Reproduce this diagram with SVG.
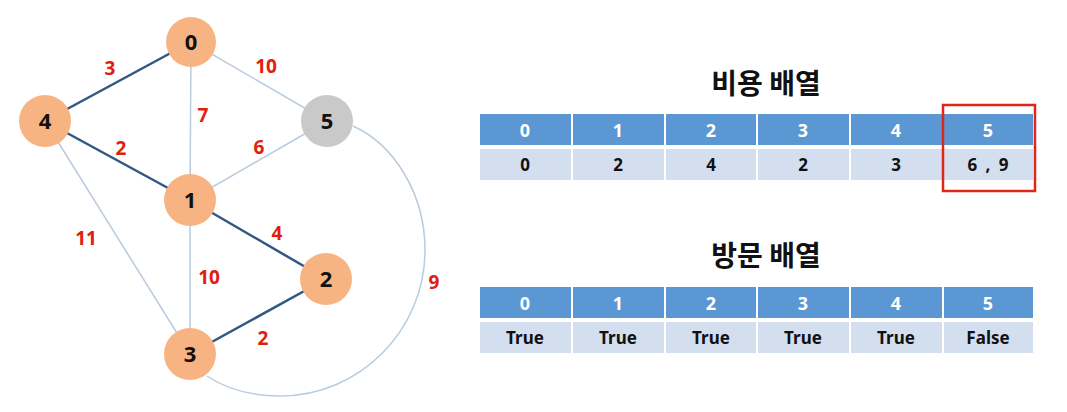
<svg xmlns="http://www.w3.org/2000/svg" width="1067" height="412" viewBox="0 0 1067 412">
<style>
.light{stroke:#B9CBDD;stroke-width:1.5;fill:none}
.dark{stroke:#2F5883;stroke-width:2.5;fill:none}
.w{font-family:"Noto Sans","Liberation Sans",sans-serif;font-weight:bold;font-size:19px;fill:#E0200F;text-anchor:middle}
.node circle{fill:#F7B482}
.node text{font-family:"Noto Sans","Liberation Sans",sans-serif;font-weight:bold;font-size:22px;fill:#111;text-anchor:middle}
.hd{fill:#5B97D3}
.rw{fill:#D3DFEF}
.ht{font-family:"Noto Sans","Liberation Sans",sans-serif;font-weight:bold;font-size:18px;fill:#fff;text-anchor:middle}
.rt{font-family:"Noto Sans","Liberation Sans",sans-serif;font-weight:bold;font-size:17px;fill:#111;text-anchor:middle}
.title{font-family:"Noto Sans CJK KR",sans-serif;font-weight:bold;font-size:28px;fill:#111;text-anchor:middle}
</style>
<rect width="1067" height="412" fill="#fff"/>
<g id="connectors">
<line class="light" x1="191" y1="42" x2="327" y2="121"/>
<line class="light" x1="191" y1="42" x2="190" y2="200"/>
<line class="light" x1="327" y1="121" x2="190" y2="200"/>
<line class="light" x1="45" y1="121" x2="190" y2="354"/>
<line class="light" x1="190" y1="200" x2="190" y2="354"/>
<path class="light" d="M353,126 C395,145 425,195 425,250 C425,330 360,396 280,396 C250,396 225,388 207,376"/>
<line class="dark" x1="191" y1="42" x2="45" y2="121"/>
<line class="dark" x1="45" y1="121" x2="190" y2="200"/>
<line class="dark" x1="190" y1="200" x2="326" y2="279"/>
<line class="dark" x1="190" y1="354" x2="326" y2="279"/>
<text class="w" x="110" y="75">3</text>
<text class="w" x="266" y="73">10</text>
<text class="w" x="203" y="122">7</text>
<text class="w" x="121" y="155">2</text>
<text class="w" x="259" y="154">6</text>
<text class="w" x="86" y="245">11</text>
<text class="w" x="209" y="284">10</text>
<text class="w" x="277" y="240">4</text>
<text class="w" x="263" y="345">2</text>
<text class="w" x="434" y="289">9</text>
</g>
<g id="n0" class="node"><circle cx="191" cy="42" r="25"/><text x="191" y="50">0</text></g>
<g id="n4" class="node"><circle cx="45" cy="121" r="26"/><text x="45" y="129">4</text></g>
<g id="n5" class="node"><circle cx="327" cy="121" r="26" style="fill:#C9C9C9"/><text x="327" y="129">5</text></g>
<g id="n1" class="node"><circle cx="190" cy="200" r="26"/><text x="190" y="208">1</text></g>
<g id="n2" class="node"><circle cx="326" cy="279" r="26"/><text x="326" y="287">2</text></g>
<g id="n3" class="node"><circle cx="190" cy="354" r="26"/><text x="190" y="362">3</text></g>
<g id="cost-table">
<text class="title" x="766" y="94">비용 배열</text>
<rect class="hd" x="480" y="114" width="91" height="31"/>
<rect class="hd" x="573" y="114" width="91" height="31"/>
<rect class="hd" x="666" y="114" width="90" height="31"/>
<rect class="hd" x="758" y="114" width="91" height="31"/>
<rect class="hd" x="851" y="114" width="91" height="31"/>
<rect class="hd" x="944" y="114" width="89" height="31"/>
<rect class="rw" x="480" y="149" width="91" height="31"/>
<rect class="rw" x="573" y="149" width="91" height="31"/>
<rect class="rw" x="666" y="149" width="90" height="31"/>
<rect class="rw" x="758" y="149" width="91" height="31"/>
<rect class="rw" x="851" y="149" width="91" height="31"/>
<rect class="rw" x="944" y="149" width="89" height="31"/>
<text class="ht" x="525" y="137">0</text>
<text class="ht" x="618" y="137">1</text>
<text class="ht" x="711" y="137">2</text>
<text class="ht" x="803" y="137">3</text>
<text class="ht" x="896" y="137">4</text>
<text class="ht" x="988" y="137">5</text>
<text class="rt" x="525" y="171">0</text>
<text class="rt" x="618" y="171">2</text>
<text class="rt" x="711" y="171">4</text>
<text class="rt" x="803" y="171">2</text>
<text class="rt" x="896" y="171">3</text>
<text class="rt" x="989" y="171" xml:space="preserve" letter-spacing="2">6 , 9</text>
<rect x="943" y="105" width="92" height="86" fill="none" stroke="#E0251B" stroke-width="2.5"/>
</g>
<g id="visit-table">
<text class="title" x="766" y="266">방문 배열</text>
<rect class="hd" x="480" y="287" width="91" height="31"/>
<rect class="hd" x="573" y="287" width="91" height="31"/>
<rect class="hd" x="666" y="287" width="90" height="31"/>
<rect class="hd" x="758" y="287" width="91" height="31"/>
<rect class="hd" x="851" y="287" width="91" height="31"/>
<rect class="hd" x="944" y="287" width="89" height="31"/>
<rect class="rw" x="480" y="322" width="91" height="31"/>
<rect class="rw" x="573" y="322" width="91" height="31"/>
<rect class="rw" x="666" y="322" width="90" height="31"/>
<rect class="rw" x="758" y="322" width="91" height="31"/>
<rect class="rw" x="851" y="322" width="91" height="31"/>
<rect class="rw" x="944" y="322" width="89" height="31"/>
<text class="ht" x="525" y="310">0</text>
<text class="ht" x="618" y="310">1</text>
<text class="ht" x="711" y="310">2</text>
<text class="ht" x="803" y="310">3</text>
<text class="ht" x="896" y="310">4</text>
<text class="ht" x="988" y="310">5</text>
<text class="rt" x="525" y="344">True</text>
<text class="rt" x="618" y="344">True</text>
<text class="rt" x="711" y="344">True</text>
<text class="rt" x="803" y="344">True</text>
<text class="rt" x="896" y="344">True</text>
<text class="rt" x="988" y="344">False</text>
</g>
</svg>
